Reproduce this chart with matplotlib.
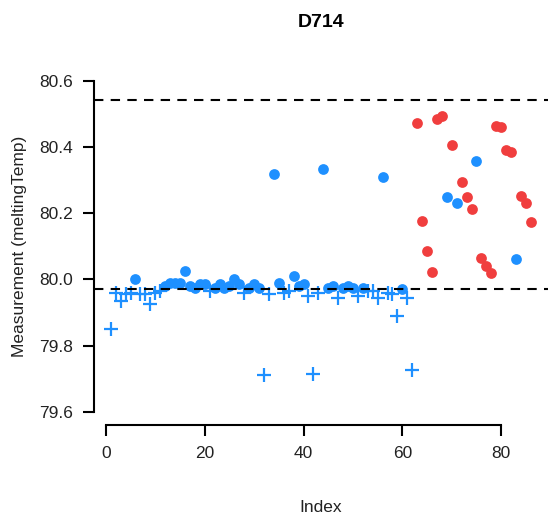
import matplotlib
matplotlib.use("Agg")
import matplotlib.pyplot as plt

# in-control points (blue circles)
blue_circle_idx = [6, 12, 13, 14, 15, 16, 17, 18, 19, 20, 22, 23, 24, 25, 26, 27, 29, 30, 31,
                   34, 35, 38, 39, 40, 44, 45, 46, 48, 49, 50, 52, 56, 60,
                   69, 71, 75, 83]
blue_circle_val = [80.00, 79.98, 79.99, 79.99, 79.99, 80.025, 79.98, 79.975, 79.985, 79.985,
                   79.975, 79.985, 79.975, 79.98, 80.00, 79.985, 79.975, 79.985, 79.975,
                   80.32, 79.99, 80.01, 79.98, 79.985, 80.335, 79.975, 79.98, 79.975, 79.98,
                   79.975, 79.975, 80.31, 79.97,
                   80.25, 80.23, 80.359, 80.063]

# points below the centre line (blue plus)
blue_plus_idx = [1, 2, 3, 4, 5, 7, 8, 9, 10, 11, 21, 28, 32, 33, 36, 37, 41, 42, 43, 47,
                 51, 53, 54, 55, 57, 58, 59, 61, 62]
blue_plus_val = [79.85, 79.96, 79.935, 79.955, 79.96, 79.955, 79.955, 79.925, 79.96, 79.965,
                 79.965, 79.96, 79.71, 79.955, 79.96, 79.965, 79.95, 79.715, 79.96, 79.945,
                 79.95, 79.965, 79.965, 79.945, 79.96, 79.955, 79.89, 79.945, 79.725]

# flagged points (red circles)
red_idx = [63, 64, 65, 66, 67, 68, 70, 72, 73, 74, 76, 77, 78, 79, 80, 81, 82, 84, 85, 86]
red_val = [80.474, 80.176, 80.086, 80.021, 80.485, 80.495, 80.407, 80.294, 80.25, 80.214,
           80.065, 80.041, 80.019, 80.464, 80.462, 80.39, 80.384, 80.252, 80.232, 80.174]

limits = [80.543, 79.972]
xticks = [0, 20, 40, 60, 80]
yticks = [79.6, 79.8, 80.0, 80.2, 80.4, 80.6]

plt.rcParams['font.family'] = ['Liberation Sans', 'DejaVu Sans']

fig = plt.figure(figsize=(5.49, 5.15), dpi=100)
ax = fig.add_axes([0.1712, 0.1748, 0.8263, 0.6937])

blue = "#1E90FF"
red = "#F03E3E"
ax.scatter(blue_circle_idx, blue_circle_val, s=60, c=blue, linewidths=0, zorder=2)
ax.scatter(blue_plus_idx, blue_plus_val, s=100, c=blue, marker="+", linewidths=1.6, zorder=2)
ax.scatter(red_idx, red_val, s=60, c=red, linewidths=0, zorder=2)

for lim in limits:
    ax.axhline(lim, color="black", lw=1.5, ls=(0, (4.5, 3.5)), zorder=3)

ax.set_xlim(-2.4, 89.4)
ax.set_ylim(79.56, 80.64)
ax.set_xticks(xticks)
ax.set_yticks(yticks)
ax.set_yticklabels(["%.1f" % v for v in yticks])

for s in ["top", "right"]:
    ax.spines[s].set_visible(False)
ax.spines["left"].set_bounds(79.6, 80.6)
ax.spines["bottom"].set_bounds(0, 80)
for s in ["left", "bottom"]:
    ax.spines[s].set_linewidth(1.5)
ax.tick_params(direction="out", length=8, width=1.5, labelsize=12.5, pad=7, colors="black",
               labelcolor="#222222")

ax.set_xlabel("Index", fontsize=12.5, labelpad=28, color="#222222")
ax.set_ylabel("Measurement (meltingTemp)", fontsize=12.5, labelpad=9, color="#222222")
ax.set_title("D714", fontsize=14, fontweight="bold", pad=29)

fig.savefig("out.png", dpi=100)
